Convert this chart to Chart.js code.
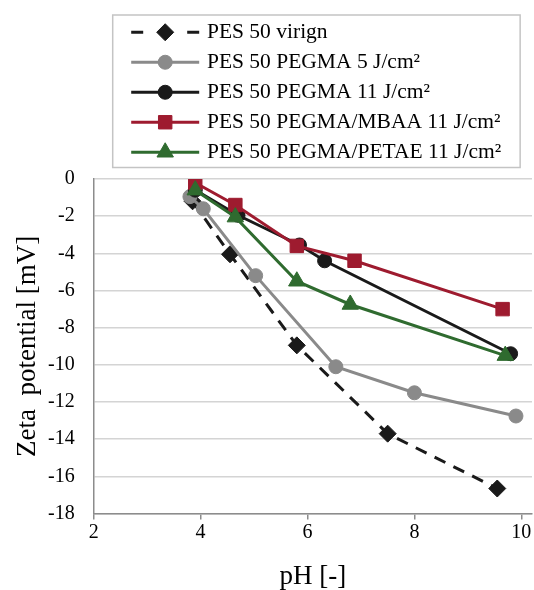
<!DOCTYPE html>
<html><head><meta charset="utf-8">
<script src="https://cdn.jsdelivr.net/npm/chart.js@4/dist/chart.umd.min.js"></script>
<style>html,body{margin:0;padding:0;background:#fff}#wrap{width:534px;height:590px}</style>
</head><body><div id="wrap"><canvas id="c" width="534" height="590"></canvas></div>
<script>
// ---- data ----
const SERIES_NAMES = ['PES 50 virign', 'PES 50 PEGMA 5 J/cm²', 'PES 50 PEGMA 11 J/cm²', 'PES 50 PEGMA/MBAA 11 J/cm²', 'PES 50 PEGMA/PETAE 11 J/cm²'];
const X_VIRIGN = [3.85, 4.55, 5.8, 7.5, 9.55];
const Y_VIRIGN = [-1.2, -4.05, -8.95, -13.7, -16.65];
const X_PEGMA5 = [3.8, 4.05, 5.03, 6.53, 8.0, 9.9];
const Y_PEGMA5 = [-0.95, -1.6, -5.2, -10.1, -11.5, -12.75];
const X_PEGMA11 = [3.9, 4.7, 5.85, 6.32, 9.8];
const Y_PEGMA11 = [-0.6, -1.95, -3.55, -4.4, -9.4];
const X_MBAA = [3.9, 4.65, 5.8, 6.88, 9.65];
const Y_MBAA = [-0.2, -1.4, -3.6, -4.4, -7.0];
const X_PETAE = [3.9, 4.65, 5.8, 6.8, 9.7];
const Y_PETAE = [-0.6, -2.05, -5.5, -6.75, -9.5];
const X_TICKS = [2, 4, 6, 8, 10];
const Y_TICKS = [0, -2, -4, -6, -8, -10, -12, -14, -16, -18];
const X_TITLE = 'pH [-]';
const Y_TITLE = 'Zeta  potential [mV]';

const FONT = 'Liberation Serif, Times New Roman, serif';
const pts = (xs, ys) => xs.map((x, i) => ({x, y: ys[i]}));

function ds(label, data, color, style, radius, order, dash) {
  return {
    label, data, order,
    showLine: true, tension: 0,
    borderColor: color, backgroundColor: color, borderWidth: 3,
    borderDash: dash || [],
    pointStyle: style, pointRadius: radius, pointHoverRadius: radius,
    pointBackgroundColor: color, pointBorderColor: color, pointBorderWidth: 1
  };
}

const datasets = [
  ds(SERIES_NAMES[0], pts(X_VIRIGN, Y_VIRIGN), '#1a1a1a', 'rectRot', 8.5, 5, [12, 9]),
  ds(SERIES_NAMES[1], pts(X_PEGMA5, Y_PEGMA5), '#8a8a8a', 'circle', 7, 4),
  ds(SERIES_NAMES[2], pts(X_PEGMA11, Y_PEGMA11), '#1a1a1a', 'circle', 7, 3),
  ds(SERIES_NAMES[3], pts(X_MBAA, Y_MBAA), '#9e1b2f', 'rect', 9.5, 2),
  ds(SERIES_NAMES[4], pts(X_PETAE, Y_PETAE), '#2f6b2f', 'triangle', 9.5, 1)
];

const SAMPLE_START = 29, SAMPLE_END = 97;
const legendDecor = {
  id: 'legendDecor',
  afterDraw(chart) {
    const lg = chart.legend;
    if (!lg || !lg.legendHitBoxes || !lg.legendHitBoxes.length) return;
    const ctx = chart.ctx;
    const boxes = lg.legendHitBoxes, items = lg.legendItems;
    ctx.save();
    let right = 0;
    boxes.forEach(b => { right = Math.max(right, b.left + b.width); });
    const first = boxes[0], last = boxes[boxes.length - 1];
    const fx = first.left + 10.5, fy = first.top - 6.5;
    ctx.strokeStyle = '#c4c4c4'; ctx.lineWidth = 1.5;
    ctx.strokeRect(fx, fy, right + 19 - fx, last.top + last.height + 4.5 - fy);
    items.forEach((it, i) => {
      const d = chart.data.datasets[it.datasetIndex];
      const b = boxes[i];
      const cy = b.top + b.height / 2;
      const x0 = b.left + SAMPLE_START, x1 = b.left + SAMPLE_END;
      ctx.strokeStyle = d.borderColor; ctx.lineWidth = d.borderWidth; ctx.lineCap = 'butt';
      ctx.beginPath();
      if (d.borderDash && d.borderDash.length) {
        const dl = d.borderDash[0];
        ctx.moveTo(x0, cy); ctx.lineTo(x0 + dl, cy);
        ctx.moveTo(x1 - dl, cy); ctx.lineTo(x1, cy);
      } else {
        ctx.moveTo(x0, cy); ctx.lineTo(x1, cy);
      }
      ctx.stroke();
      ctx.fillStyle = d.pointBackgroundColor; ctx.strokeStyle = d.pointBorderColor; ctx.lineWidth = d.pointBorderWidth;
      Chart.helpers.drawPoint(ctx, {pointStyle: d.pointStyle, radius: d.pointRadius, rotation: 0, borderWidth: d.pointBorderWidth}, (x0 + x1) / 2, cy);
    });
    ctx.restore();
  }
};

new Chart(document.getElementById('c'), {
  type: 'scatter',
  data: { datasets },
  plugins: [legendDecor],
  options: {
    responsive: false, animation: false, devicePixelRatio: 1,
    layout: { autoPadding: false, padding: { top: 13, left: 12, right: 2, bottom: 0 } },
    plugins: {
      tooltip: { enabled: false },
      legend: {
        position: 'top', fullSize: false, align: 'start',
        labels: {
          font: { family: FONT, size: 21.5 }, color: '#000',
          boxWidth: 94, boxHeight: 21, padding: 8.5,
          sort: (a, b) => a.datasetIndex - b.datasetIndex,
          generateLabels: (chart) => Chart.defaults.plugins.legend.labels.generateLabels(chart).map(l => Object.assign(l, {fillStyle: 'rgba(0,0,0,0)', strokeStyle: 'rgba(0,0,0,0)', lineWidth: 0}))
        }
      }
    },
    scales: {
      x: {
        type: 'linear', min: 2, max: 10.2,
        afterBuildTicks: s => { s.ticks = X_TICKS.map(v => ({value: v})); },
        grid: { drawOnChartArea: false, drawTicks: true, tickLength: 6, color: '#8c8c8c', lineWidth: 1.5 },
        border: { color: '#8c8c8c', width: 1.5 },
        ticks: { font: { family: FONT, size: 20 }, color: '#000', padding: 1, maxRotation: 0 },
        title: { display: true, text: X_TITLE, font: { family: FONT, size: 27 }, color: '#000', padding: { top: 15, bottom: -3 } }
      },
      y: {
        type: 'linear', min: -18, max: 0,
        afterBuildTicks: s => { s.ticks = Y_TICKS.map(v => ({value: v})); },
        afterFit: s => { s.width = 81.7; },
        grid: { color: '#d4d4d4', lineWidth: 1.5, drawTicks: false },
        border: { color: '#8c8c8c', width: 1.5 },
        ticks: { font: { family: FONT, size: 20 }, color: '#000', padding: 19 },
        title: { display: true, text: Y_TITLE, font: { family: FONT, size: 27 }, color: '#000', padding: { top: 0, bottom: 5 } }
      },
      gap: {
        type: 'linear', position: 'top', display: true,
        ticks: { display: false }, grid: { display: false }, border: { display: false },
        afterFit: s => { s.height = 6; }
      }
    }
  }
});
</script>
</body></html>
